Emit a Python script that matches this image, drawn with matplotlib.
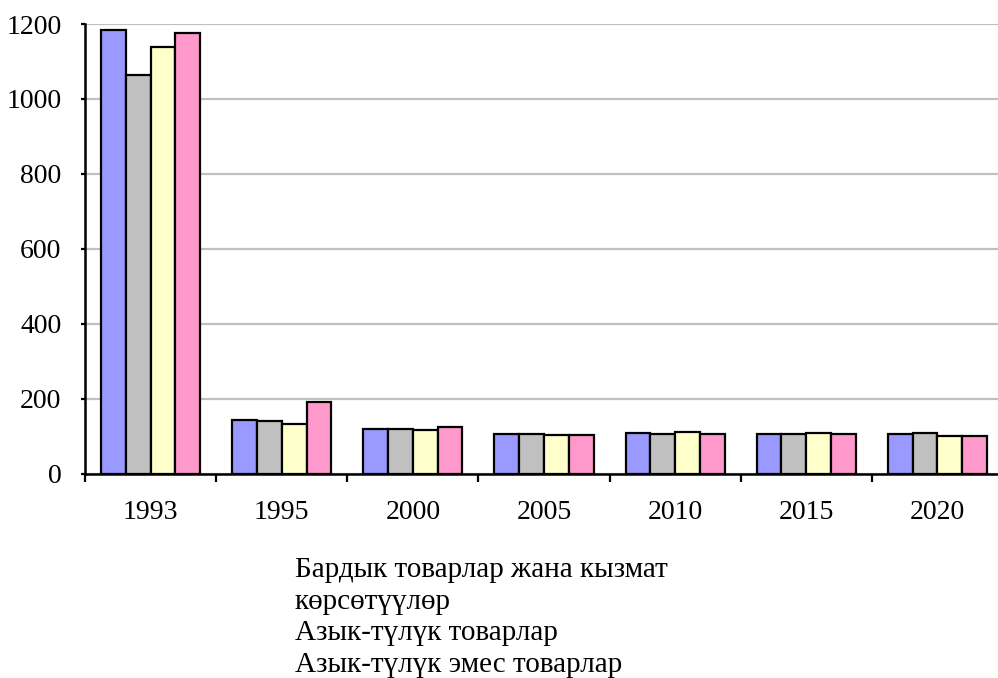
import numpy as np
import matplotlib.pyplot as plt

years = ['1993', '1995', '2000', '2005', '2010', '2015', '2020']
all_goods = [1184, 145, 120, 106, 108, 107, 106]
series_2 = [1064, 141, 120, 107, 107, 106, 110]
food = [1139, 133, 117, 104, 111, 110, 102]
non_food = [1176, 192, 125, 105, 107, 107, 101]
legend_lines = ['Бардык товарлар жана кызмат', 'көрсөтүүлөр',
                'Азык-түлүк товарлар', 'Азык-түлүк эмес товарлар']

colors = ['#9999FF', '#C0C0C0', '#FFFFCC', '#FF99CC']
series = [all_goods, series_2, food, non_food]

plt.rcParams['font.family'] = ['Liberation Serif', 'DejaVu Serif']

fig = plt.figure(figsize=(9.98, 6.78), dpi=100)
# axes runs a bit past the right edge, like in the original
ax = fig.add_axes([0.0852, 0.3009, 0.9198, 0.6637])

x = np.arange(len(years))
w = 0.189
for i, (vals, c) in enumerate(zip(series, colors)):
    ax.bar(x + (i - 1.5) * w, vals, width=w, color=c, edgecolor='black',
           linewidth=1.6, zorder=3)

ax.set_xlim(-0.5, len(years) - 0.5)
ax.set_ylim(0, 1200)
ax.set_yticks(range(0, 1201, 200))
ax.yaxis.grid(True, color='#C0C0C0', linewidth=1.6, zorder=0)

ax.set_xticks(x)
ax.set_xticklabels(years)
ax.set_xticks(np.arange(-0.5, len(years)), minor=True)
ax.tick_params(axis='x', which='major', length=0, pad=19, labelsize=20)
ax.tick_params(axis='x', which='minor', length=6, width=1.6, direction='out')
ax.tick_params(axis='y', length=3, width=1.6, pad=14, labelsize=20)

for s in ['top', 'right']:
    ax.spines[s].set_visible(False)
for s in ['left', 'bottom']:
    ax.spines[s].set_linewidth(1.8)

base = (678 - 577) / 678
step = 31.7 / 678
for k, line in enumerate(legend_lines):
    fig.text(295 / 998, base - k * step, line, fontsize=21,
             va='baseline', ha='left')

fig.savefig('out.png', dpi=100)
